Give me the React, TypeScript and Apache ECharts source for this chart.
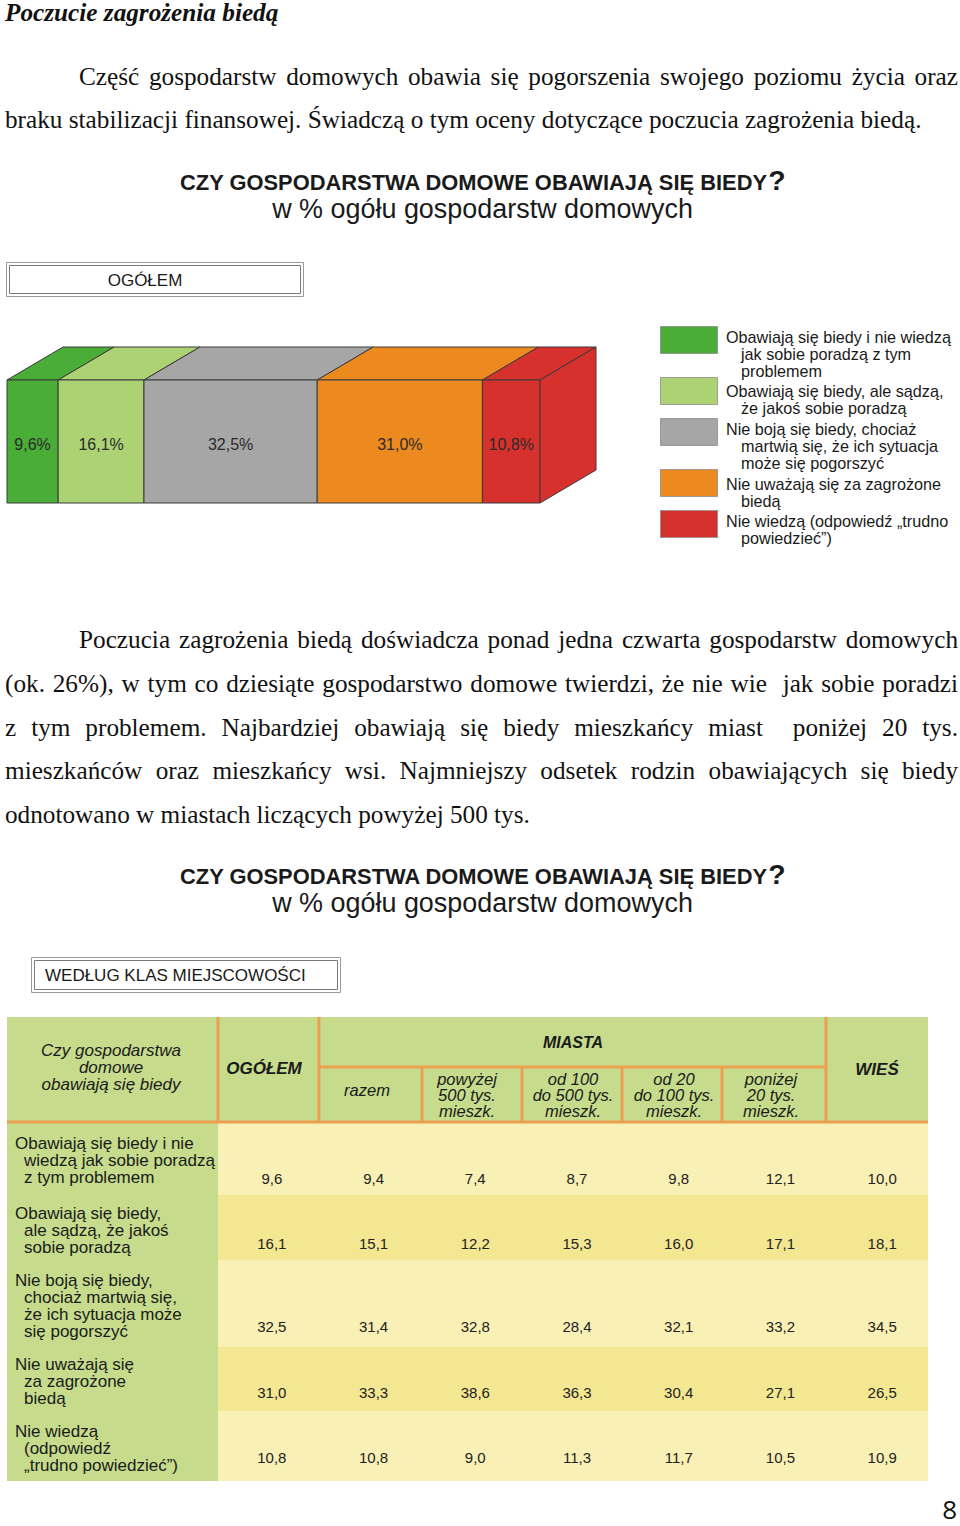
import React, { useEffect, useRef } from 'react';
import * as echarts from 'echarts';

// ---------------- DATA ----------------
const headingText = 'Poczucie zagrożenia biedą';
const para1 = [
  'Część gospodarstw domowych obawia się pogorszenia swojego poziomu życia oraz',
  'braku stabilizacji finansowej. Świadczą o tym oceny dotyczące poczucia zagrożenia biedą.',
];
const para2 = [
  'Poczucia zagrożenia biedą doświadcza ponad jedna czwarta gospodarstw domowych',
  '(ok. 26%), w tym co dziesiąte gospodarstwo domowe twierdzi, że nie wie  jak sobie poradzi',
  'z tym problemem. Najbardziej obawiają się biedy mieszkańcy miast  poniżej 20 tys.',
  'mieszkańców oraz mieszkańcy wsi. Najmniejszy odsetek rodzin obawiających się biedy',
  'odnotowano w miastach liczących powyżej 500 tys.',
];
const chartTitleMain = 'CZY GOSPODARSTWA DOMOWE OBAWIAJĄ SIĘ BIEDY';
const chartTitleMark = '?';
const chartSubtitle = 'w % ogółu gospodarstw domowych';
const boxLabel1 = 'OGÓŁEM';
const boxLabel2 = 'WEDŁUG KLAS MIEJSCOWOŚCI';
const pageNumber = '8';

const answerCategories = [
  'Obawiają się biedy i nie wiedzą jak sobie poradzą z tym problemem',
  'Obawiają się biedy, ale sądzą, że jakoś sobie poradzą',
  'Nie boją się biedy, chociaż martwią się, że ich sytuacja może się pogorszyć',
  'Nie uważają się za zagrożone biedą',
  'Nie wiedzą (odpowiedź „trudno powiedzieć”)',
];
const ogolemShares = [9.6, 16.1, 32.5, 31.0, 10.8];
const legendLines = [
  ['Obawiają się biedy i nie wiedzą', 'jak sobie poradzą z tym', 'problemem'],
  ['Obawiają się biedy, ale sądzą,', 'że jakoś sobie poradzą'],
  ['Nie boją się biedy, chociaż', 'martwią się, że ich sytuacja', 'może się pogorszyć'],
  ['Nie uważają się za zagrożone', 'biedą'],
  ['Nie wiedzą (odpowiedź „trudno', 'powiedzieć”)'],
];

const tableRowLabels = [
  ['Obawiają się biedy i nie', 'wiedzą jak sobie poradzą', 'z tym problemem'],
  ['Obawiają się biedy,', 'ale sądzą, że jakoś', 'sobie poradzą'],
  ['Nie boją się biedy,', 'chociaż martwią się,', 'że ich sytuacja może', 'się pogorszyć'],
  ['Nie uważają się', 'za zagrożone', 'biedą'],
  ['Nie wiedzą', '(odpowiedź', '„trudno powiedzieć”)'],
];
const tableColumns = ['OGÓŁEM', 'razem', 'powyżej 500 tys. mieszk.', 'od 100 do 500 tys. mieszk.', 'od 20 do 100 tys. mieszk.', 'poniżej 20 tys. mieszk.', 'WIEŚ'];
const headerCornerLines = ['Czy gospodarstwa', 'domowe', 'obawiają się biedy'];
const headerGroupLabel = 'MIASTA';
const headerSubLines = [
  ['razem'],
  ['powyżej', '500 tys.', 'mieszk.'],
  ['od 100', 'do 500 tys.', 'mieszk.'],
  ['od 20', 'do 100 tys.', 'mieszk.'],
  ['poniżej', '20 tys.', 'mieszk.'],
];
const ogolemValues = [9.6, 16.1, 32.5, 31.0, 10.8];
const razemValues = [9.4, 15.1, 31.4, 33.3, 10.8];
const above500Values = [7.4, 12.2, 32.8, 38.6, 9.0];
const from100to500Values = [8.7, 15.3, 28.4, 36.3, 11.3];
const from20to100Values = [9.8, 16.0, 32.1, 30.4, 11.7];
const below20Values = [12.1, 17.1, 33.2, 27.1, 10.5];
const villageValues = [10.0, 18.1, 34.5, 26.5, 10.9];
const tableValues = [ogolemValues, razemValues, above500Values, from100to500Values, from20to100Values, below20Values, villageValues];

// ---------------- STYLE / LAYOUT ----------------
const W = 960;
const H = 1526;
const SERIF = "'Liberation Serif', 'Times New Roman', serif";
const SANS = "'Liberation Sans', Arial, Helvetica, sans-serif";
const segmentColors = ['#4aad38', '#acd274', '#a6a6a6', '#ec8a1f', '#d7312d'];
const EDGE = '#3a3a3a';
const GREEN = '#c6dc8c';
const LIGHT = '#f8f0b5';
const DARK = '#f4e792';
const ORANGE = '#eaa050';
const DX = 56;
const DY = 33;

const TBL_L = 7;
const TBL_R = 928;
const TBL_TOP = 1017;
const HDR_BOT = 1122;
const MID_Y = 1067;
const colEdges = [218, 319, 422, 522, 622, 722, 826];
const rowHeights = [73, 65, 87, 64, 70];
const valueInset = [17, 17, 21, 19, 24];
const labelFirstOffset = [21, 18, 20, 17, 20];
const TABLE_H = rowHeights.reduce((a, b) => a + b, 0);

const fmt = (v: number) => v.toFixed(1).replace('.', ',');

function makeMeasurer() {
  const c = document.createElement('canvas');
  const ctx = c.getContext('2d') as CanvasRenderingContext2D;
  return (text: string, size: number, family: string, weight = 'normal', style = 'normal') => {
    ctx.font = `${style} ${weight} ${size}px ${family}`;
    return ctx.measureText(text).width;
  };
}

type TO = { size?: number; family?: string; weight?: string; style?: string; fill?: string; align?: string };
const txt = (text: string, x: number, y: number, o: TO = {}) => ({
  type: 'text',
  x,
  y,
  silent: true,
  style: {
    text,
    fontFamily: o.family ?? SANS,
    fontSize: o.size ?? 16,
    fontWeight: o.weight ?? 'normal',
    fontStyle: o.style ?? 'normal',
    fill: o.fill ?? '#1a1a1a',
    align: o.align ?? 'left',
    verticalAlign: 'middle',
  },
});

function buildOption() {
  const m = makeMeasurer();
  const g: any[] = [];

  // ---- body text ----
  const bodySize = (24 * 917) / m(para1[1], 24, SERIF);
  const bodyO: TO = { size: bodySize, family: SERIF, fill: '#111' };
  const justified = (text: string, x0: number, x1: number, y: number) => {
    const words = text.split(' ');
    const ws = words.map((w) => (w ? m(w, bodySize, SERIF) : 0));
    const total = ws.reduce((a, b) => a + b, 0);
    const gap = (x1 - x0 - total) / (words.length - 1);
    let x = x0;
    words.forEach((w, i) => {
      if (w) g.push(txt(w, x, y, bodyO));
      x += ws[i] + gap;
    });
  };
  g.push(txt(headingText, 5, 12, { ...bodyO, weight: 'bold', style: 'italic' }));
  justified(para1[0], 79, 958, 76);
  g.push(txt(para1[1], 5, 119, bodyO));
  justified(para2[0], 79, 958, 639);
  justified(para2[1], 5, 958, 683);
  justified(para2[2], 5, 958, 727);
  justified(para2[3], 5, 958, 770);
  g.push(txt(para2[4], 5, 814, bodyO));

  // ---- chart titles ----
  const qScale = 1.3;
  const tUnit = m(chartTitleMain, 20, SANS, 'bold') + m(chartTitleMark, 20 * qScale, SANS, 'bold');
  const tSize = (20 * 606) / tUnit;
  const tMainW = m(chartTitleMain, tSize, SANS, 'bold');
  const subSize = (24 * 421) / m(chartSubtitle, 24, SANS);
  [0, 694].forEach((off) => {
    g.push(txt(chartTitleMain, 180, 182 + off, { size: tSize, weight: 'bold', fill: '#1a1a1a' }));
    g.push(txt(chartTitleMark, 180 + tMainW, 180 + off, { size: tSize * qScale, weight: 'bold', fill: '#1a1a1a' }));
    g.push(txt(chartSubtitle, 482.5, 209 + off, { size: subSize, align: 'center', fill: '#1a1a1a' }));
  });

  // ---- double-framed boxes ----
  const dbox = (x: number, y: number, w: number, h: number) => {
    g.push({ type: 'rect', silent: true, shape: { x: x + 0.5, y: y + 0.5, width: w, height: h }, style: { fill: '#fff', stroke: '#9a9a9a', lineWidth: 1 } });
    g.push({ type: 'rect', silent: true, shape: { x: x + 3.5, y: y + 3.5, width: w - 6, height: h - 6 }, style: { fill: 'none', stroke: '#7a7a7a', lineWidth: 1 } });
  };
  dbox(6, 262, 297, 34);
  g.push(txt(boxLabel1, 145, 280, { size: 17, align: 'center' }));
  dbox(31, 957, 309, 35);
  g.push(txt(boxLabel2, 45, 975, { size: 17 }));

  // ---- legend ----
  const swTops = [326, 377, 418, 469, 510];
  const lgFirst = [337, 391, 429, 484, 521];
  legendLines.forEach((lines, i) => {
    g.push({ type: 'rect', silent: true, shape: { x: 660.5, y: swTops[i] + 0.5, width: 57, height: 27 }, style: { fill: segmentColors[i], stroke: '#8c8c8c', lineWidth: 0.8 } });
    lines.forEach((ln, j) => {
      g.push(txt(ln, j === 0 ? 726 : 741, lgFirst[i] + j * 16.8, { size: 16.2, fill: '#1a1a1a' }));
    });
  });

  // ---- table backgrounds ----
  g.push({ type: 'rect', silent: true, shape: { x: TBL_L, y: TBL_TOP, width: TBL_R - TBL_L, height: HDR_BOT - TBL_TOP }, style: { fill: GREEN } });
  g.push({ type: 'rect', silent: true, shape: { x: TBL_L, y: HDR_BOT, width: colEdges[0] - TBL_L, height: TABLE_H }, style: { fill: GREEN } });
  let yy = HDR_BOT;
  rowHeights.forEach((h, r) => {
    g.push({ type: 'rect', silent: true, shape: { x: colEdges[0], y: yy, width: TBL_R - colEdges[0], height: h }, style: { fill: r % 2 === 0 ? LIGHT : DARK } });
    tableRowLabels[r].forEach((ln, j) => {
      g.push(txt(ln, j === 0 ? 15 : 24, yy + labelFirstOffset[r] + j * 17, { size: 17, fill: '#1a1a1a' }));
    });
    yy += h;
  });
  // orange lines
  const oline = (x1: number, y1: number, x2: number, y2: number) =>
    g.push({ type: 'line', silent: true, shape: { x1, y1, x2, y2 }, style: { stroke: ORANGE, lineWidth: 3 } });
  oline(TBL_L, HDR_BOT, TBL_R, HDR_BOT);
  oline(colEdges[1], MID_Y, colEdges[6], MID_Y);
  [colEdges[0], colEdges[1], colEdges[6]].forEach((x) => oline(x, TBL_TOP, x, HDR_BOT));
  [colEdges[2], colEdges[3], colEdges[4], colEdges[5]].forEach((x) => oline(x, MID_Y, x, HDR_BOT));
  // header texts
  headerCornerLines.forEach((ln, j) => g.push(txt(ln, 111, 1050 + j * 17, { size: 17, style: 'italic', align: 'center' })));
  g.push(txt(tableColumns[0], 264, 1068, { size: 17, style: 'italic', weight: 'bold', align: 'center' }));
  g.push(txt(headerGroupLabel, 573, 1042, { size: 16, style: 'italic', weight: 'bold', align: 'center' }));
  g.push(txt(tableColumns[6], 877, 1069, { size: 17, style: 'italic', weight: 'bold', align: 'center' }));
  const subCenters = [367, 467, 573, 674, 771];
  headerSubLines.forEach((lines, k) => {
    const y0 = lines.length === 1 ? 1090 : 1079;
    lines.forEach((ln, j) => g.push(txt(ln, subCenters[k], y0 + j * 16, { size: 16.5, style: 'italic', align: 'center' })));
  });

  // page number
  g.push(txt(pageNumber, 957, 1509, { size: 26, family: "'Open Sans', 'DejaVu Sans', sans-serif", align: 'right', fill: '#111' }));

  // ---- series data ----
  const barData: number[][] = [];
  let acc = 0;
  ogolemShares.forEach((v, i) => {
    barData.push([acc, acc + v, v, i]);
    acc += v;
  });
  const rowValueLine: number[] = [];
  let cumTop = 0;
  rowHeights.forEach((h, r) => {
    rowValueLine.push(cumTop + h - valueInset[r]);
    cumTop += h;
  });
  const cellData: number[][] = [];
  tableValues.forEach((col, c) => col.forEach((v, r) => cellData.push([c, rowValueLine[r], v])));

  return {
    animation: false,
    backgroundColor: '#ffffff',
    grid: [
      { left: 7, top: 380, width: 533, height: 123 },
      { left: 221, top: HDR_BOT, width: 712, height: TABLE_H },
    ],
    xAxis: [
      { type: 'value', gridIndex: 0, min: 0, max: 100, show: false },
      { type: 'category', gridIndex: 1, data: tableColumns, show: false },
    ],
    yAxis: [
      { type: 'category', gridIndex: 0, data: [boxLabel1], show: false },
      { type: 'value', gridIndex: 1, min: 0, max: TABLE_H, inverse: true, show: false },
    ],
    graphic: { elements: g },
    series: [
      {
        type: 'custom',
        name: 'OGÓŁEM',
        xAxisIndex: 0,
        yAxisIndex: 0,
        clip: false,
        data: barData,
        encode: { x: [0, 1] },
        renderItem: (_p: any, api: any) => {
          const s = api.value(0);
          const e = api.value(1);
          const v = api.value(2);
          const i = api.value(3);
          const a = api.coord([s, 0]);
          const b = api.coord([e, 0]);
          const bh = api.size([0, 1])[1];
          const yT = a[1] - bh / 2;
          const yB = a[1] + bh / 2;
          const st = { fill: segmentColors[i], stroke: EDGE, lineWidth: 1 };
          const children: any[] = [
            { type: 'polygon', shape: { points: [[a[0], yT], [b[0], yT], [b[0] + DX, yT - DY], [a[0] + DX, yT - DY]] }, style: st },
            { type: 'rect', shape: { x: a[0], y: yT, width: b[0] - a[0], height: bh }, style: st },
          ];
          if (i === ogolemShares.length - 1) {
            children.push({ type: 'polygon', shape: { points: [[b[0], yT], [b[0] + DX, yT - DY], [b[0] + DX, yB - DY], [b[0], yB]] }, style: st });
          }
          children.push({
            type: 'text',
            x: (a[0] + b[0]) / 2,
            y: a[1] + 3,
            style: { text: fmt(v) + '%', fontFamily: SANS, fontSize: 16, fill: '#2a2a2a', align: 'center', verticalAlign: 'middle' },
          });
          return { type: 'group', children };
        },
      },
      {
        type: 'custom',
        name: 'tabela',
        xAxisIndex: 1,
        yAxisIndex: 1,
        clip: false,
        data: cellData,
        encode: { x: 0, y: 1 },
        renderItem: (_p: any, api: any) => {
          const pt = api.coord([api.value(0), api.value(1)]);
          return {
            type: 'text',
            x: pt[0],
            y: pt[1],
            style: { text: fmt(api.value(2)), fontFamily: SANS, fontSize: 15, fill: '#222', align: 'center', verticalAlign: 'middle' },
          };
        },
      },
    ],
  };
}

export default function App() {
  const ref = useRef<HTMLDivElement>(null);
  useEffect(() => {
    const el = ref.current as HTMLDivElement;
    const chart = echarts.init(el, undefined, { renderer: 'svg', width: W, height: H });
    chart.setOption(buildOption() as any);
    return () => chart.dispose();
  }, []);
  return (
    <div
      ref={ref}
      aria-label={answerCategories.join('; ')}
      style={{ position: 'absolute', left: 0, top: 0, width: W, height: H, overflow: 'hidden', background: '#fff' }}
    />
  );
}
